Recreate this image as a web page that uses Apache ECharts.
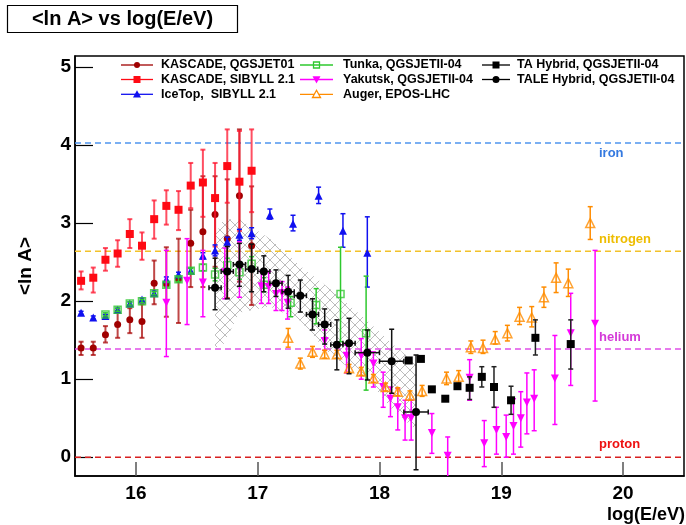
<!DOCTYPE html>
<html><head><meta charset="utf-8">
<script src="https://cdn.jsdelivr.net/npm/echarts@6/dist/echarts.min.js"></script>
<style>html,body{margin:0;padding:0;background:#fff}#c{width:686px;height:525px}</style>
</head><body><div id="c"></div>
<script>
// ---------- data ----------
const xTicks = [16, 17, 18, 19, 20];
const yTicks = [0, 1, 2, 3, 4, 5];
const refNames = ['iron', 'nitrogen', 'helium', 'proton'];
const refValues = [4.025, 2.639, 1.386, 0];

const bandX  = [16.65, 16.72, 16.85, 17.1, 17.35, 17.6, 17.9, 18.1, 18.3];
const bandHi = [2.85, 3.05, 3.05, 2.8, 2.45, 2.15, 1.75, 1.46, 1.2];
const bandLo = [1.4, 1.45, 1.85, 1.93, 1.75, 1.3, 1.0, 0.62, 0.35];

const kasQX  = [15.55,15.65,15.75,15.85,15.95,16.05,16.15,16.25,16.35,16.45,16.55,16.65,16.75,16.85,16.95];
const kasQY  = [1.40,1.40,1.57,1.70,1.76,1.74,2.23,2.22,2.28,2.74,2.89,3.11,2.80,3.35,2.71];
const kasQLo = [1.31,1.31,1.47,1.53,1.59,1.53,1.96,1.80,1.72,2.18,2.18,2.44,2.04,2.25,1.95];
const kasQHi = [1.48,1.48,1.68,1.88,1.91,1.96,2.52,2.69,2.80,3.17,3.60,3.60,3.56,4.20,3.47];

const kasSX  = [15.55,15.65,15.75,15.85,15.95,16.05,16.15,16.25,16.35,16.45,16.55,16.65,16.75,16.85,16.95];
const kasSY  = [2.26,2.30,2.53,2.61,2.86,2.71,3.05,3.22,3.17,3.48,3.52,3.32,3.73,3.53,3.67];
const kasSLo = [2.15,2.11,2.39,2.44,2.68,2.53,2.80,2.98,2.91,3.19,3.08,2.70,3.26,2.90,3.14];
const kasSHi = [2.38,2.43,2.68,2.78,3.05,2.88,3.29,3.42,3.41,3.77,3.94,3.77,4.20,4.18,4.20];

const iceX  = [15.55,15.65,15.75,15.85,15.95,16.05,16.15,16.25,16.35,16.45,16.55,16.65,16.75,16.85,16.95,17.10,17.29,17.50,17.70,17.90];
const iceY  = [1.85,1.79,1.81,1.89,1.97,2.02,2.10,2.28,2.34,2.39,2.58,2.65,2.76,2.85,2.87,3.10,2.99,3.35,2.90,2.62];
const iceLo = [1.83,1.77,1.79,1.87,1.95,2.00,2.07,2.25,2.31,2.36,2.54,2.58,2.70,2.78,2.80,3.05,2.90,3.25,2.69,2.18];
const iceHi = [1.87,1.81,1.83,1.91,1.99,2.04,2.13,2.31,2.37,2.42,2.62,2.72,2.82,2.92,2.94,3.18,3.10,3.46,3.12,3.08];

const tunX  = [15.75,15.85,15.95,16.05,16.15,16.25,16.35,16.45,16.55,16.65,16.75,16.85,16.95,17.05,17.27,17.48,17.68,17.89];
const tunY  = [1.83,1.89,1.97,2.00,2.10,2.21,2.28,2.39,2.43,2.34,2.46,2.37,2.48,2.21,1.98,1.95,2.09,1.59];
const tunLo = [1.81,1.87,1.95,1.98,2.08,2.18,2.25,2.36,2.39,2.26,2.37,2.28,2.39,2.12,1.80,1.71,1.48,0.86];
const tunHi = [1.85,1.91,1.99,2.02,2.12,2.24,2.31,2.42,2.47,2.42,2.55,2.46,2.57,2.30,2.06,2.16,2.69,2.32];

const yakX  = [16.25,16.42,16.55,16.73,16.85,17.03,17.09,17.15,17.20,17.245,17.55,17.73,17.85,17.95,18.03,18.09,18.15,18.21,18.26,18.43,18.56,18.74,18.86,18.96,19.04,19.10,19.16,19.21,19.27,19.44,19.57,19.77];
const yakY  = [1.98,2.26,2.24,2.37,2.42,2.19,2.18,2.09,2.10,1.98,1.49,1.30,1.30,1.20,0.90,0.75,0.64,0.50,0.50,0.31,0.02,1.02,0.18,0.35,0.26,0.40,0.50,0.70,0.75,1.01,1.59,1.71];
const yakLo = [1.29,1.70,1.80,2.03,2.05,1.97,1.97,1.88,1.88,1.77,1.37,1.08,1.00,0.90,0.64,0.52,0.35,0.22,0.22,0.05,-0.30,0.73,-0.12,0.04,0.00,0.04,0.13,0.30,0.34,0.42,0.92,0.72];
const yakHi = [2.65,2.80,2.65,2.68,2.76,2.38,2.38,2.23,2.25,2.18,1.63,1.44,1.52,1.35,1.09,0.90,0.88,0.73,0.73,0.56,0.26,1.25,0.47,0.64,0.54,0.75,0.84,1.08,1.12,1.56,2.10,2.65];

const augX  = [17.25,17.35,17.45,17.55,17.65,17.75,17.85,17.95,18.05,18.15,18.25,18.35,18.55,18.65,18.75,18.85,18.95,19.05,19.15,19.25,19.35,19.45,19.55,19.73];
const augY  = [1.53,1.20,1.35,1.32,1.32,1.14,1.10,1.01,0.90,0.84,0.79,0.85,1.01,1.03,1.41,1.40,1.51,1.59,1.80,1.79,2.05,2.30,2.23,3.00];
const augLo = [1.41,1.13,1.28,1.27,1.27,1.09,1.05,0.96,0.85,0.79,0.73,0.78,0.93,0.95,1.33,1.33,1.45,1.49,1.70,1.67,1.92,2.11,2.06,2.79];
const augHi = [1.65,1.27,1.42,1.37,1.37,1.19,1.15,1.06,0.95,0.89,0.85,0.92,1.09,1.11,1.49,1.50,1.61,1.69,1.92,1.93,2.18,2.49,2.41,3.21];

const taX  = [18.24,18.34,18.43,18.54,18.64,18.74,18.84,18.94,19.08,19.28,19.57];
const taY  = [1.24,1.26,0.87,0.75,0.91,0.89,1.03,0.90,0.73,1.53,1.45];
const taLo = [1.22,1.24,0.85,0.73,0.89,0.74,0.90,0.64,0.55,1.31,1.13];
const taHi = [1.26,1.28,0.89,0.77,0.93,1.03,1.16,1.16,0.91,1.76,1.76];

const taleX   = [16.65,16.75,16.85,16.95,17.05,17.15,17.25,17.35,17.45,17.55,17.65,17.75,17.90,18.10,18.30];
const taleY   = [2.17,2.38,2.47,2.41,2.38,2.23,2.12,2.07,1.83,1.70,1.44,1.46,1.34,1.23,0.58];
const taleLo  = [1.89,2.03,2.19,2.12,2.12,2.06,1.91,1.86,1.63,1.45,1.12,1.07,0.99,0.82,-0.16];
const taleHi  = [2.55,2.70,2.74,2.73,2.58,2.40,2.33,2.27,2.03,1.90,1.76,1.78,1.63,1.64,1.31];
const taleXE  = [0.05,0.05,0.05,0.05,0.05,0.05,0.05,0.05,0.05,0.05,0.05,0.05,0.10,0.10,0.10];

// ---------- layout / style ----------
const X_MIN = 15.5, X_MAX = 20.5, Y_MIN = -0.24, Y_MAX = 5.14;
const FONT = "'Liberation Sans', Arial, Helvetica, sans-serif";
const refColors = ['#4f95ee', '#f2c22a', '#e04fe6', '#d82020'];
const refLabelColors = ['#3479e0', '#eebd00', '#d43ad8', '#ee1111'];
const refLabelPos = [[599, 153], [599, 239], [599, 337], [599, 444]];

const sets = [
  {name:'KASCADE, QGSJET01', x:kasQX, y:kasQY, lo:kasQLo, hi:kasQHi, color:'#a00000', bar:'rgba(170,10,10,0.75)', sym:'circle', size:7, open:false, lw:2},
  {name:'KASCADE, SIBYLL 2.1', x:kasSX, y:kasSY, lo:kasSLo, hi:kasSHi, color:'#ff0a14', bar:'rgba(255,20,45,0.75)', sym:'rect', size:8, open:false, lw:2},
  {name:'IceTop,  SIBYLL 2.1', x:iceX, y:iceY, lo:iceLo, hi:iceHi, color:'#1010f0', bar:'#1010f0', sym:'triangle', size:8, open:false, lw:1.5},
  {name:'Tunka, QGSJETII-04', x:tunX, y:tunY, lo:tunLo, hi:tunHi, color:'#2ec82e', bar:'#2ec82e', sym:'rect', size:7, open:true, lw:1.5},
  {name:'Yakutsk, QGSJETII-04', x:yakX, y:yakY, lo:yakLo, hi:yakHi, color:'#ff00ff', bar:'#ff00ff', sym:'triangle', rot:180, size:8, open:false, lw:1.5},
  {name:'Auger, EPOS-LHC', x:augX, y:augY, lo:augLo, hi:augHi, color:'#ff8c00', bar:'#ff8c00', sym:'triangle', size:9, open:true, lw:1.5},
  {name:'TA Hybrid, QGSJETII-04', x:taX, y:taY, lo:taLo, hi:taHi, color:'#000000', bar:'#222', sym:'rect', size:8, open:false, lw:1.5},
  {name:'TALE Hybrid, QGSJETII-04', x:taleX, y:taleY, lo:taleLo, hi:taleHi, xe:taleXE, color:'#000000', bar:'#111', sym:'circle', size:8, open:false, lw:1.5}
];

// hatch pattern for the band
const pc = document.createElement('canvas');
pc.width = 10; pc.height = 10;
const g = pc.getContext('2d');
g.strokeStyle = '#b4b4b4'; g.lineWidth = 0.9;
g.beginPath(); g.moveTo(0, 0); g.lineTo(10, 10); g.moveTo(10, 0); g.lineTo(0, 10); g.stroke();

const series = [];

// band
series.push({
  type: 'custom', silent: true, z: 1,
  data: bandX.map((x, i) => [x, bandLo[i], bandHi[i]]),
  encode: {x: 0, y: [1, 2]},
  renderItem: function (params, api) {
    if (params.dataIndex !== 0) return null;
    const pts = [];
    for (let i = 0; i < bandX.length; i++) pts.push(api.coord([bandX[i], bandHi[i]]));
    for (let i = bandX.length - 1; i >= 0; i--) pts.push(api.coord([bandX[i], bandLo[i]]));
    return {type: 'polygon', shape: {points: pts}, style: {fill: {image: pc, repeat: 'repeat'}, stroke: null}};
  }
});

// reference lines
refValues.forEach((v, i) => {
  series.push({
    type: 'line', silent: true, z: 2, showSymbol: false, symbol: 'none',
    data: [[X_MIN, v], [X_MAX, v]],
    lineStyle: {color: refColors[i], width: 1.5, type: [6, 4]}
  });
});

function errRender(set) {
  return function (params, api) {
    const x = api.value(0), y = api.value(1);
    const lo = Math.max(api.value(2), Y_MIN), hi = Math.min(api.value(3), Y_MAX);
    const xe = api.value(4);
    const a = api.coord([x, lo]), b = api.coord([x, hi]);
    const st = {stroke: set.bar, lineWidth: set.lw};
    const cap = 2.5;
    const ch = [
      {type: 'line', shape: {x1: a[0], y1: a[1], x2: b[0], y2: b[1]}, style: st},
      {type: 'line', shape: {x1: b[0] - cap, y1: b[1], x2: b[0] + cap, y2: b[1]}, style: st}
    ];
    if (api.value(2) >= Y_MIN) ch.push({type: 'line', shape: {x1: a[0] - cap, y1: a[1], x2: a[0] + cap, y2: a[1]}, style: st});
    if (xe > 0) {
      const l = api.coord([x - xe, y]), r = api.coord([x + xe, y]);
      ch.push({type: 'line', shape: {x1: l[0], y1: l[1], x2: r[0], y2: r[1]}, style: st});
      ch.push({type: 'line', shape: {x1: l[0], y1: l[1] - cap, x2: l[0], y2: l[1] + cap}, style: st});
      ch.push({type: 'line', shape: {x1: r[0], y1: r[1] - cap, x2: r[0], y2: r[1] + cap}, style: st});
    }
    return {type: 'group', children: ch};
  };
}

sets.forEach((s, k) => {
  series.push({
    type: 'custom', silent: true, z: 3 + k * 2,
    data: s.x.map((x, i) => [x, s.y[i], s.lo[i], s.hi[i], s.xe ? s.xe[i] : 0]),
    encode: {x: 0, y: 1},
    renderItem: errRender(s)
  });
  series.push({
    type: 'scatter', silent: true, z: 4 + k * 2,
    data: s.x.map((x, i) => [x, s.y[i]]),
    symbol: s.sym, symbolSize: s.size, symbolRotate: s.rot || 0,
    itemStyle: s.open ? {color: 'rgba(255,255,255,0)', borderColor: s.color, borderWidth: 1.5}
                      : {color: s.color, opacity: 1}
  });
});

// ---------- legend / texts as graphics ----------
const graphics = [];
graphics.push({type: 'rect', shape: {x: 7.5, y: 5.5, width: 230, height: 27}, style: {fill: '#fff', stroke: '#000', lineWidth: 1.2}, z: 10});
graphics.push({type: 'text', x: 122.5, y: 19.5, z: 11, style: {text: '<ln A> vs log(E/eV)', font: 'bold 20px ' + FONT, fill: '#000', align: 'center', verticalAlign: 'middle'}});
graphics.push({type: 'text', x: 26, y: 266, rotation: Math.PI / 2, z: 11, style: {text: '<ln A>', font: 'bold 19px ' + FONT, fill: '#000', align: 'center', verticalAlign: 'middle'}});
graphics.push({type: 'text', x: 685, y: 515, z: 11, style: {text: 'log(E/eV)', font: 'bold 18px ' + FONT, fill: '#000', align: 'right', verticalAlign: 'middle'}});
refNames.forEach((n, i) => {
  graphics.push({type: 'text', x: refLabelPos[i][0], y: refLabelPos[i][1], z: 11, style: {text: n, font: 'bold 13px ' + FONT, fill: refLabelColors[i], align: 'left', verticalAlign: 'middle'}});
});

const legCols = [[121, 153, 161], [300, 333, 343], [482, 510, 517]];
const legRows = [65, 79.5, 94.3];
const legPlace = [[0,0],[0,1],[0,2],[1,0],[1,1],[1,2],[2,0],[2,1]];
function markerGraphic(s, cx, cy) {
  const r = Math.min(s.size, 8) / 2;
  const fill = s.open ? 'rgba(255,255,255,0)' : s.color;
  const stroke = s.open ? s.color : null;
  if (s.sym === 'circle') return {type: 'circle', shape: {cx, cy, r: r - 0.5}, style: {fill, stroke}, z: 12};
  if (s.sym === 'rect') return {type: 'rect', shape: {x: cx - r + 0.5, y: cy - r + 0.5, width: 2 * r - 1, height: 2 * r - 1}, style: {fill, stroke, lineWidth: 1.3}, z: 12};
  const d = s.rot ? -1 : 1;
  return {type: 'polygon', shape: {points: [[cx, cy - d * r], [cx + r, cy + d * r * 0.8], [cx - r, cy + d * r * 0.8]]}, style: {fill: s.open ? '#fff' : fill, stroke, lineWidth: 1.3}, z: 12};
}
sets.forEach((s, k) => {
  const [c, r] = legPlace[k];
  const [x0, x1, tx] = legCols[c];
  const y = legRows[r];
  graphics.push({type: 'line', shape: {x1: x0, y1: y, x2: x1, y2: y}, style: {stroke: s.color, lineWidth: 1.3}, z: 11});
  graphics.push(markerGraphic(s, (x0 + x1) / 2, y));
  graphics.push({type: 'text', x: tx, y: y, z: 11, style: {text: s.name, font: 'bold 12.5px ' + FONT, fill: '#000', align: 'left', verticalAlign: 'middle'}});
});

const chart = echarts.init(document.getElementById('c'), null, {renderer: 'canvas'});
chart.setOption({
  animation: false,
  backgroundColor: '#fff',
  grid: {left: 75, right: 2, top: 56, bottom: 49, show: true, borderColor: '#000', borderWidth: 1.5, backgroundColor: 'rgba(0,0,0,0)'},
  xAxis: {
    type: 'value', min: X_MIN, max: X_MAX,
    axisLine: {show: true, onZero: false, lineStyle: {color: '#000', width: 1.5}},
    axisTick: {show: true, inside: true, length: 14, customValues: xTicks, lineStyle: {color: '#555', width: 1.5}},
    axisLabel: {customValues: xTicks, margin: 8, color: '#000', fontFamily: FONT, fontWeight: 'bold', fontSize: 19},
    splitLine: {show: false}
  },
  yAxis: {
    type: 'value', min: Y_MIN, max: Y_MAX,
    axisLine: {show: true, onZero: false, lineStyle: {color: '#000', width: 1.5}},
    axisTick: {show: true, inside: true, length: 18, customValues: yTicks, lineStyle: {color: '#000', width: 1.2}},
    axisLabel: {customValues: yTicks, margin: 4, color: '#000', fontFamily: FONT, fontWeight: 'bold', fontSize: 19},
    splitLine: {show: false}
  },
  graphic: graphics,
  series: series
});
</script>
</body></html>
